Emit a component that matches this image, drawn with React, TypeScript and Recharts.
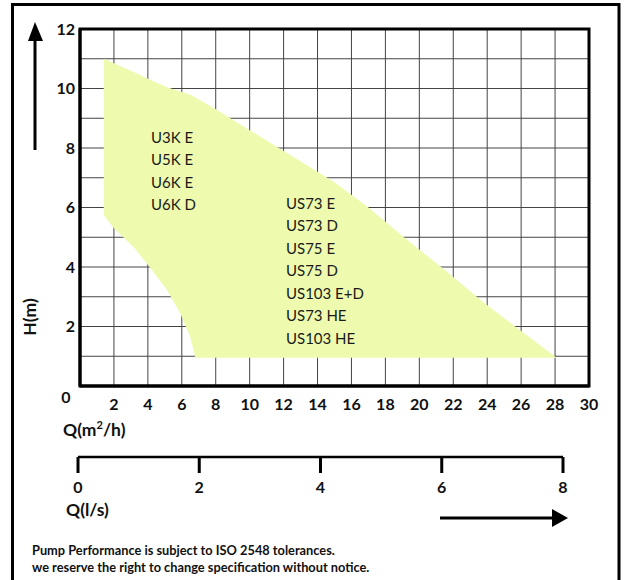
import React from 'react';
import {
  ComposedChart, Area, XAxis, YAxis, CartesianGrid, ReferenceArea, ReferenceDot,
} from 'recharts';

// flow Q (m3/h) along the envelope, with max and min head (m) at each flow
const FLOW = [1.4, 2.0, 3.2, 4.1, 5.1, 5.9, 6.5, 6.8, 8, 10, 12, 14, 15, 17, 19.2, 21.5, 23.7, 26, 28.1];
const HEAD_MAX = [11.0, 10.85, 10.55, 10.3, 10.05, 9.9, 9.8, 9.7, 9.3, 8.6, 7.9, 7.2, 6.85, 6.0, 4.95, 3.9, 2.85, 1.85, 0.95];
const HEAD_MIN = [5.75, 5.3, 4.65, 4.0, 3.25, 2.45, 1.65, 0.95, 0.95, 0.95, 0.95, 0.95, 0.95, 0.95, 0.95, 0.95, 0.95, 0.95, 0.95];

const Q_TICKS = [0, 2, 4, 6, 8, 10, 12, 14, 16, 18, 20, 22, 24, 26, 28, 30];
const H_TICKS = [0, 1, 2, 3, 4, 5, 6, 7, 8, 9, 10, 11, 12];
const LS_TICKS = [0, 2, 4, 6, 8];

const GROUP_A = ['U3K E', 'U5K E', 'U6K E', 'U6K D'];
const GROUP_B = ['US73 E', 'US73 D', 'US75 E', 'US75 D', 'US103 E+D', 'US73 HE', 'US103 HE'];

const FONT = 'Lato, "Open Sans", sans-serif';

const rows = FLOW.map((q, i) => ({ q, hi: HEAD_MAX[i], lo: HEAD_MIN[i] }));
const lsRows = LS_TICKS.map((ls) => ({ ls }));

const QTick = (props: any) => {
  const { x, y, payload } = props;
  const zero = payload.value === 0;
  return (
    <text x={x + (zero ? -14 : 0)} y={y + (zero ? 17 : 24)} textAnchor="middle"
      fontFamily={FONT} fontWeight={700} fontSize={16} fill="#111">
      {payload.value}
    </text>
  );
};

const LsTick = (props: any) => {
  const { x, y, payload } = props;
  return (
    <text x={x} y={y + 20} textAnchor="middle" fontFamily={FONT} fontWeight={700} fontSize={16} fill="#111">
      {payload.value}
    </text>
  );
};

const modelLabel = (names: string[]) => (props: any) => {
  const { x, y } = props.viewBox;
  return (
    <text x={x} y={y} fontFamily={FONT} fontSize={15} fill="#1a1a1a">
      {names.map((n, i) => (
        <tspan key={n} x={x} dy={i === 0 ? 5 : 22.5}>{n}</tspan>
      ))}
    </text>
  );
};

export default function App() {
  return (
    <div style={{ position: 'absolute', left: 0, top: 0, width: 626, height: 580, background: '#fff', overflow: 'hidden' }}>
      <svg width={626} height={580} style={{ position: 'absolute', left: 0, top: 0 }}>
        {/* frame */}
        <path d="M12.5,582 V4.5 H619 V582" fill="none" stroke="#000" strokeWidth={3} />
        {/* up arrow */}
        <line x1={35} y1={150} x2={35} y2={36} stroke="#000" strokeWidth={3} />
        <polygon points="35,22 28,41 43,41" fill="#000" />
        <text transform="translate(36,317) rotate(-90)" textAnchor="middle" fontFamily={FONT}
          fontWeight={700} fontSize={17.5} fill="#111">H(m)</text>
        <text x={63} y={436} fontFamily={FONT} fontWeight={700} fontSize={17.5} fill="#111">
          Q(m<tspan dy={-7} fontSize={11}>2</tspan><tspan dy={7}>/h)</tspan>
        </text>
        <text x={66} y={516} fontFamily={FONT} fontWeight={700} fontSize={17.5} fill="#111">Q(l/s)</text>
        {/* right arrow */}
        <line x1={440} y1={518} x2={555} y2={518} stroke="#000" strokeWidth={3} />
        <polygon points="568,518 552,509 552,527" fill="#000" />
        <text x={32} y={555} fontFamily={FONT} fontWeight={700} fontSize={12.8} fill="#111">
          Pump Performance is subject to ISO 2548 tolerances.
        </text>
        <text x={32} y={572} fontFamily={FONT} fontWeight={700} fontSize={12.8} fill="#111">
          we reserve the right to change specification without notice.
        </text>
      </svg>

      <div style={{ position: 'absolute', left: 0, top: 0 }}>
        <ComposedChart width={626} height={420} data={rows}
          margin={{ top: 29, right: 37, left: 0, bottom: 4 }}>
          <CartesianGrid stroke="#444" strokeWidth={1} />
          <XAxis dataKey="q" type="number" domain={[0, 30]} ticks={Q_TICKS} interval={0}
            height={30} tickSize={0} tickMargin={0} tickLine={false}
            axisLine={{ stroke: '#000', strokeWidth: 3 }} tick={<QTick />} allowDataOverflow />
          <YAxis type="number" domain={[0, 12]} ticks={H_TICKS} interval={0} width={80}
            tickSize={3} tickMargin={2} tickLine={false}
            tickFormatter={(v: number) => (v > 0 && v % 2 === 0 ? String(v) : '')}
            axisLine={{ stroke: '#000', strokeWidth: 3 }}
            tick={{ fontFamily: FONT, fontWeight: 700, fontSize: 16, fill: '#111' }} />
          <Area type="linear" dataKey={(d: any) => [d.lo, d.hi]} fill="#eefbae" fillOpacity={1}
            stroke="none" isAnimationActive={false} />
          <ReferenceArea x1={0} x2={30} y1={0} y2={12} fill="none" stroke="#000" strokeWidth={3} />
          <ReferenceDot x={4.18} y={8.34} r={0} stroke="none" fill="none" label={modelLabel(GROUP_A)} />
          <ReferenceDot x={12.14} y={6.12} r={0} stroke="none" fill="none" label={modelLabel(GROUP_B)} />
        </ComposedChart>
      </div>

      <div style={{ position: 'absolute', left: 0, top: 437 }}>
        <ComposedChart width={626} height={70} data={lsRows}
          margin={{ top: 0, right: 63, left: 78, bottom: 0 }}>
          <XAxis dataKey="ls" type="number" domain={[0, 8]} ticks={LS_TICKS} interval={0}
            height={50} tickSize={16} tickMargin={0}
            tickLine={{ stroke: '#000', strokeWidth: 3 }}
            axisLine={{ stroke: '#000', strokeWidth: 2.5 }} tick={<LsTick />} />
          <YAxis hide domain={[0, 1]} />
        </ComposedChart>
      </div>
    </div>
  );
}
